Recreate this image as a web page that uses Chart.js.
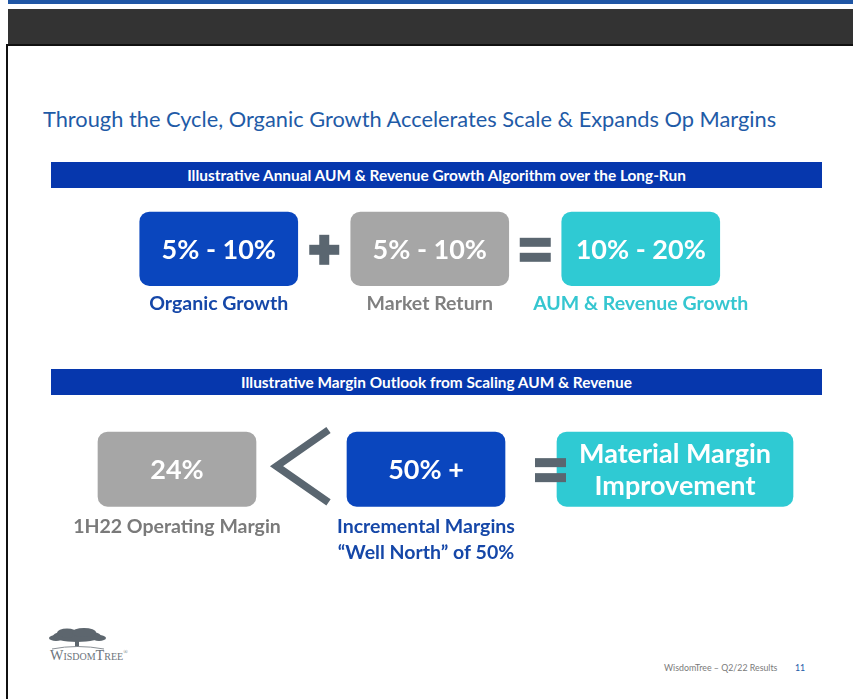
<!DOCTYPE html>
<html>
<head>
<meta charset="utf-8">
<title>WisdomTree - Q2/22 Results</title>
<script src="https://cdn.jsdelivr.net/npm/chart.js@4.4.0/dist/chart.umd.min.js"></script>
<style>
  html, body { margin: 0; padding: 0; background: #fff; }
  body { width: 853px; height: 699px; position: relative; overflow: hidden; font-family: Lato, 'Open Sans', sans-serif; }
  .topline { position: absolute; left: 8px; top: 0; width: 845px; height: 4px; background: #1f56a5; }
  .band { position: absolute; left: 8px; top: 9px; width: 845px; height: 35px; background: #333; }
  .frame { position: absolute; left: 6px; top: 44px; width: 860px; height: 700px; border-left: 2px solid #111; border-top: 2px solid #111; }
  .title { position: absolute; left: 43px; top: 105px; font-size: 21.8px; color: #1f5ba7; white-space: nowrap; }
  .banner { position: absolute; left: 51px; width: 771px; height: 26px; line-height: 26px; background: #0637ad;
    color: #fff; font-weight: bold; font-size: 15.4px; text-align: center; }
  .row { position: absolute; left: 0; }
  .logo { position: absolute; left: 46px; top: 628px; }
  .logo .name { position: absolute; left: 4px; top: 19px; font-family: 'Liberation Serif', 'DejaVu Serif', serif;
    font-variant: small-caps; font-size: 14.2px; color: #6c747c; white-space: nowrap; }
  .logo .name sup { font-size: 6px; }
  .foot { position: absolute; top: 662px; font-size: 8.8px; color: #7a7a7a; white-space: nowrap; }
</style>
</head>
<body>
<div class="topline"></div>
<div class="band"></div>
<div class="frame"></div>

<div class="title">Through the Cycle, Organic Growth Accelerates Scale &amp; Expands Op Margins</div>
<div class="banner" style="top:162px">Illustrative Annual AUM &amp; Revenue Growth Algorithm over the Long-Run</div>
<div class="row" style="top:200px"><canvas id="growth" width="853" height="128"></canvas></div>
<div class="banner" style="top:369px">Illustrative Margin Outlook from Scaling AUM &amp; Revenue</div>
<div class="row" style="top:420px"><canvas id="margin" width="853" height="170"></canvas></div>

<div class="logo">
  <svg width="64" height="22" viewBox="0 0 64 22">
    <g fill="#5d666e">
      <ellipse cx="31" cy="8" rx="24" ry="6"></ellipse>
      <ellipse cx="21" cy="5" rx="10" ry="4.5"></ellipse>
      <ellipse cx="38" cy="4.5" rx="12" ry="4.5"></ellipse>
      <ellipse cx="10" cy="10" rx="7" ry="3"></ellipse>
      <ellipse cx="53" cy="10" rx="7" ry="3"></ellipse>
      <rect x="29" y="10" width="4" height="9"></rect>
    </g>
    <path d="M6 21 Q31 16 58 21" stroke="#8a9096" stroke-width="1" fill="none"></path>
  </svg>
  <div class="name">WisdomTree<sup>®</sup></div>
</div>
<div class="foot" style="left:664px">WisdomTree – Q2/22 Results</div>
<div class="foot" style="left:795px;color:#1f5ba7">11</div>

<script>
// growth algorithm row
const growthCaptions = ['Organic Growth', '', 'Market Return', '', 'AUM & Revenue Growth']
const growthValues = ['5% - 10%', null, '5% - 10%', null, '10% - 20%']
const growthOperators = [null, '+', null, '=', null]

// margin outlook row
const marginCaptions = ['1H22 Operating Margin', '', ['Incremental Margins', '“Well North” of 50%'], '', '']
const marginValues = ['24%', null, '50% +', null, ['Material Margin', 'Improvement']]
const marginOperators = [null, '<', null, '=', null]

const growthFill = ['#0a46be', null, '#a6a6a6', null, '#2fcad3']
const growthInk = ['#1547a8', null, '#7f7f7f', null, '#35c6d0']
const marginFill = ['#a6a6a6', null, '#0a46be', null, '#2fcad3']
const marginInk = ['#7a7a7a', null, '#1547a8', null, '#2fcad3']
const opColor = '#5a6670'

// box text and the +, =, < signs between the boxes
const boxText = {
  id: 'boxText',
  afterDatasetsDraw (chart, args, opts) {
    const { ctx, chartArea } = chart
    const x = chart.scales.x
    const yc = (chartArea.top + chartArea.bottom) / 2
    ctx.save()
    ctx.fillStyle = '#fff'
    ctx.font = 'bold 27px Lato'
    ctx.textAlign = 'center'
    ctx.textBaseline = 'middle'
    opts.values.forEach((v, i) => {
      if (!v) return
      const lines = [].concat(v)
      lines.forEach((t, k) => {
        ctx.fillText(t, x.getPixelForValue(i), yc + 1 + (k - (lines.length - 1) / 2) * 32)
      })
    })
    ctx.fillStyle = opColor
    ctx.strokeStyle = opColor
    opts.operators.forEach((op, i) => {
      if (!op) return
      const px = x.getPixelForValue(i)
      if (op === '+') {
        ctx.fillRect(px - 15, yc - 4, 30, 10)
        ctx.fillRect(px - 5, yc - 14, 10, 30)
      } else if (op === '=') {
        ctx.fillRect(px - 15.5, yc - 11, 31, 9)
        ctx.fillRect(px - 15.5, yc + 4, 31, 9)
      } else if (op === '<') {
        ctx.lineWidth = 7.5
        ctx.lineJoin = 'miter'
        ctx.beginPath()
        ctx.moveTo(px + 27, chartArea.top - 2)
        ctx.lineTo(px - 25, yc - 3)
        ctx.lineTo(px + 27, chartArea.bottom - 4)
        ctx.stroke()
      }
    })
    ctx.restore()
  }
}

function rowChart (id, captions, values, operators, ink, datasets, pad) {
  return new Chart(document.getElementById(id), {
    type: 'bar',
    data: { labels: captions, datasets },
    options: {
      responsive: false,
      animation: false,
      devicePixelRatio: 1,
      layout: { padding: pad },
      scales: {
        x: {
          offset: true,
          grid: { display: false, drawTicks: false },
          border: { display: false },
          ticks: {
            autoSkip: false,
            maxRotation: 0,
            minRotation: 0,
            padding: pad.tick,
            color: (c) => ink[c.index] || '#000',
            font: { family: 'Lato', weight: 'bold', size: 19.5, lineHeight: pad.lh }
          }
        },
        y: { display: false, min: 0, max: 1 }
      },
      plugins: {
        legend: { display: false },
        tooltip: { enabled: false },
        boxText: { values, operators }
      }
    },
    plugins: [boxText]
  })
}

const boxStyle = { borderRadius: 10, borderSkipped: false, grouped: false, clip: false }

rowChart('growth', growthCaptions, growthValues, growthOperators, growthInk, [
  Object.assign({
    data: growthValues.map(v => v ? [0, 1] : null),
    backgroundColor: growthFill,
    barThickness: 158
  }, boxStyle)
], { left: 166, right: 159.5, top: 12, bottom: 7, tick: 6, lh: 1.2 })

rowChart('margin', marginCaptions, marginValues, marginOperators, marginInk, [
  Object.assign({
    data: marginValues.map(v => v && !Array.isArray(v) ? [0, 1] : null),
    backgroundColor: marginFill,
    barThickness: 158
  }, boxStyle),
  Object.assign({
    data: marginValues.map(v => Array.isArray(v) ? [0, 1] : null),
    backgroundColor: marginFill,
    barThickness: 236
  }, boxStyle)
], { left: 114.75, right: 115.75, top: 12, bottom: 17, tick: 8, lh: 1.3 })
</script>
</body>
</html>
